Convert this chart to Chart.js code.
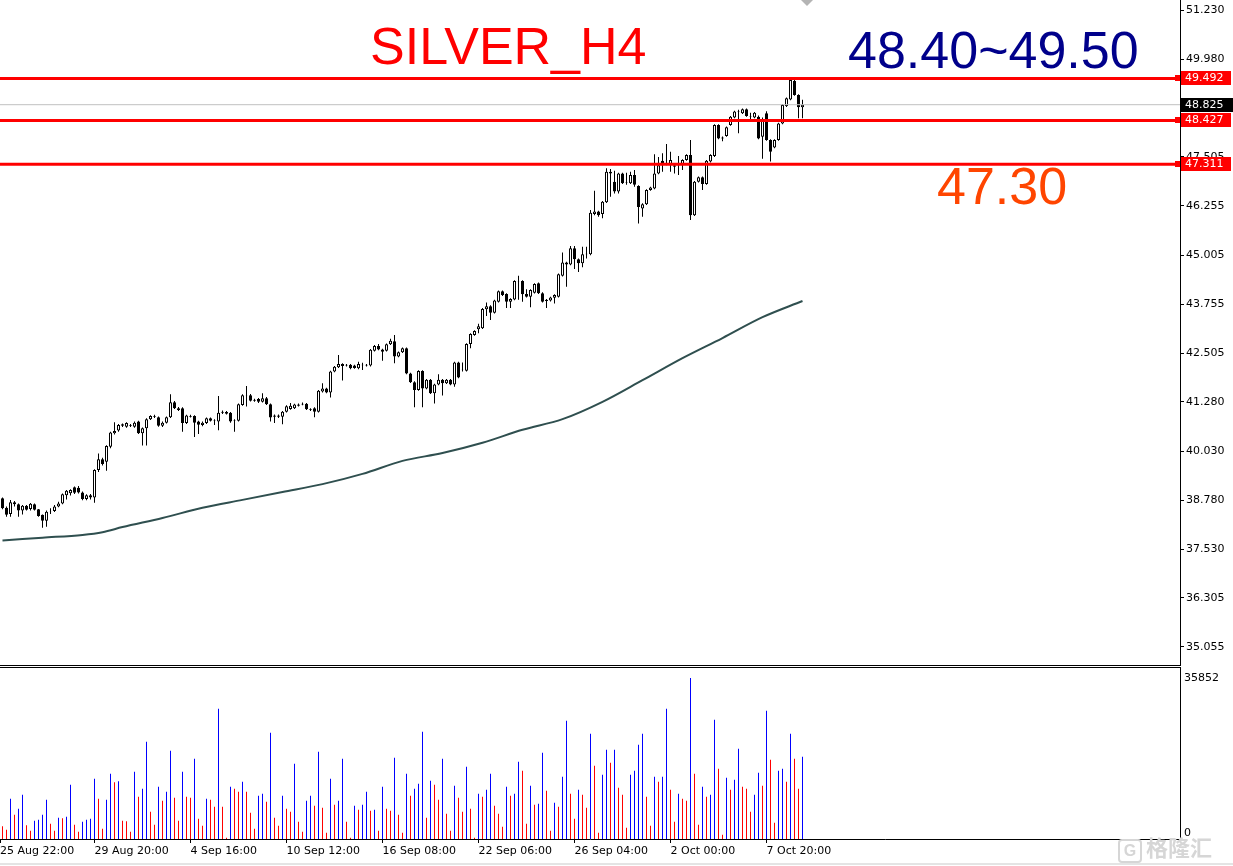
<!DOCTYPE html>
<html>
<head>
<meta charset="utf-8">
<title>SILVER_H4</title>
<script src="https://cdn.jsdelivr.net/npm/chart.js@4.4.0/dist/chart.umd.min.js"></script>
<style>
  html, body { margin: 0; padding: 0; background: #fff; }
  #wrap { position: relative; width: 1233px; height: 866px; overflow: hidden; }
  #priceBox { position: absolute; left: 0; top: 0; width: 1233px; height: 665px; }
  #volBox { position: absolute; left: 0; top: 667px; width: 1233px; height: 199px; }
  .sep { position: absolute; left: 0; width: 1181px; height: 1px; background: #000; }
  .note { position: absolute; font-family: "Liberation Sans", Arial, sans-serif; font-size: 52px; line-height: 52px; white-space: nowrap; }
  #shift { position: absolute; left: 801px; top: 0; width: 0; height: 0;
           border-left: 6px solid transparent; border-right: 6px solid transparent; border-top: 6px solid #b4b4b4; }
  #bottomLine { position: absolute; left: 0; top: 863px; width: 1233px; height: 2px; background: #e4e4e4; }
  #mark { position: absolute; left: 1118px; top: 833px; font-family: "Noto Sans CJK SC", sans-serif; font-weight: bold;
          font-size: 22px; line-height: 26px; color: #d6d6d6; white-space: nowrap; }
  #mark .g { display: inline-block; width: 20px; height: 20px; line-height: 20px; margin-right: 4px; text-align: center;
             border: 2px solid #d6d6d6; border-radius: 4px; font-size: 16px; font-family: "Liberation Sans", sans-serif; }
</style>
</head>
<body>
<div id="wrap">
  <div id="priceBox"><canvas id="priceChart"></canvas></div>
  <div id="volBox"><canvas id="volChart"></canvas></div>
  <div class="sep" style="top:665px"></div>
  <div class="sep" style="top:667px"></div>
  <div id="shift"></div>
  <div class="note" style="left:370px; top:20px; color:#ff0000">SILVER_H4</div>
  <div class="note" style="left:848px; top:24px; color:#00008b">48.40~49.50</div>
  <div class="note" style="left:937px; top:160px; color:#ff4500">47.30</div>
  <div id="bottomLine"></div>
  <div id="mark"><span class="g">G</span>格隆汇</div>
</div>
<script>
// H4 candles, oldest first (bar 0 = first visible bar after 25 Aug 22:00)
const opens = [
  38.83,38.59,38.43,38.73,38.68,38.52,38.64,38.56,38.68,38.55,
  38.41,38.26,38.50,38.51,38.62,38.70,38.91,38.96,39.11,39.10,
  38.98,38.81,38.91,38.85,39.55,39.82,39.76,40.14,40.48,40.55,
  40.67,40.65,40.67,40.65,40.78,40.48,40.61,40.84,40.90,40.89,
  40.67,40.75,40.89,41.27,41.12,41.12,40.74,40.92,40.92,40.78,
  40.69,40.74,40.86,40.80,40.78,41.00,41.02,41.00,40.80,40.80,
  41.20,41.45,41.45,41.31,41.35,41.28,41.37,41.22,40.93,40.90,
  40.90,41.03,41.10,41.12,41.21,41.21,41.23,41.09,41.12,41.03,
  41.54,41.62,41.52,42.05,42.16,42.24,42.20,42.22,42.20,42.13,
  42.22,42.20,42.20,42.58,42.70,42.61,42.58,42.74,42.82,42.43,
  42.54,42.64,42.00,41.78,41.58,42.06,41.62,41.84,41.50,41.72,
  41.84,41.75,41.84,41.72,42.28,42.10,42.07,42.75,42.98,43.12,
  43.15,43.63,43.71,43.54,43.82,44.09,44.02,43.82,43.88,44.35,
  44.35,44.02,43.95,44.05,44.29,44.04,43.84,43.85,43.92,43.95,
  44.48,44.82,44.77,45.18,44.90,44.80,45.03,45.03,46.05,46.11,
  46.05,46.35,47.08,46.87,46.62,47.08,46.85,46.83,47.04,46.76,
  46.19,46.30,46.66,46.70,47.08,47.40,47.40,47.29,47.29,47.29,
  47.32,47.42,47.55,46.02,46.87,46.98,46.81,47.38,47.52,48.31,
  47.97,48.03,48.31,48.50,48.65,48.61,48.71,48.52,48.50,48.52,
  48.01,48.61,47.93,47.74,47.93,48.35,48.79,48.96,49.43,49.07,48.76
];
const highs = [
  38.85,38.62,38.79,38.76,38.70,38.66,38.66,38.71,38.70,38.56,
  38.42,38.52,38.58,38.66,38.74,38.95,39.04,39.06,39.13,39.14,
  39.00,38.93,38.94,39.57,39.97,39.86,40.18,40.52,40.76,40.72,
  40.73,40.76,40.72,40.78,40.80,40.63,40.86,40.94,40.95,40.91,
  40.78,40.91,41.47,41.30,41.15,41.14,40.95,40.95,40.94,40.80,
  40.78,40.88,40.88,40.84,41.43,41.06,41.05,41.02,40.84,41.24,
  41.47,41.68,41.48,41.36,41.38,41.50,41.40,41.24,40.96,40.96,
  41.05,41.19,41.25,41.23,41.24,41.26,41.25,41.12,41.14,41.58,
  41.75,41.64,42.07,42.19,42.47,42.26,42.24,42.24,42.22,42.30,
  42.27,42.24,42.62,42.72,42.75,42.63,42.76,42.88,42.98,42.56,
  42.66,42.66,42.02,41.80,42.08,42.08,41.86,41.86,41.74,41.98,
  41.86,41.86,41.86,42.30,42.30,42.28,42.77,43.02,43.10,43.26,
  43.66,43.80,43.73,43.87,44.11,44.11,44.04,43.91,44.37,44.48,
  44.37,44.14,44.14,44.29,44.31,44.06,43.89,43.95,44.01,44.54,
  45.07,44.84,45.24,45.24,44.92,45.22,45.22,46.15,46.64,46.13,
  46.38,47.21,47.19,47.15,47.10,47.10,47.10,47.12,47.17,46.78,
  46.32,46.68,46.74,47.57,47.50,47.59,47.83,47.63,47.31,47.52,
  47.44,47.57,47.93,46.89,47.00,47.00,47.42,47.57,48.33,48.33,
  48.02,48.27,48.54,48.67,48.70,48.73,48.73,48.62,48.64,48.55,
  48.50,48.66,47.95,47.95,48.37,48.84,49.01,49.52,49.52,49.09,48.95
];
const lows = [
  38.55,38.36,38.36,38.62,38.36,38.42,38.52,38.52,38.52,38.36,
  38.08,38.11,38.43,38.48,38.60,38.68,38.80,38.90,38.94,38.95,
  38.78,38.78,38.80,38.72,39.50,39.66,39.53,40.10,40.45,40.52,
  40.64,40.62,40.64,40.62,40.46,40.17,40.17,40.82,40.87,40.65,
  40.64,40.73,40.87,41.10,41.05,40.52,40.72,40.88,40.39,40.46,
  40.66,40.72,40.78,40.69,40.56,40.97,40.96,40.75,40.52,40.78,
  41.18,41.16,41.29,41.28,41.25,41.26,41.20,40.78,40.74,40.87,
  40.71,41.01,41.08,41.10,41.16,41.19,41.07,41.05,40.89,41.01,
  41.52,41.50,41.39,42.03,42.14,41.82,42.18,42.11,42.12,42.11,
  42.09,42.18,42.18,42.56,42.59,42.32,42.56,42.72,42.26,42.41,
  42.52,41.98,41.76,41.14,41.56,41.14,41.60,41.48,41.24,41.70,
  41.44,41.73,41.70,41.66,41.88,42.05,42.05,42.64,42.96,43.02,
  43.13,43.46,43.36,43.52,43.80,43.97,43.66,43.66,43.86,43.87,
  43.82,43.93,43.68,44.03,44.02,43.80,43.66,43.83,43.78,43.93,
  44.46,44.20,44.75,44.65,44.58,44.70,44.92,45.00,46.02,45.98,
  45.94,46.33,46.49,46.57,46.57,46.81,46.79,46.81,46.74,45.81,
  45.98,46.28,46.64,46.68,47.06,47.12,47.29,47.12,47.08,47.04,
  47.17,47.40,45.90,46.00,46.85,46.66,46.79,47.36,47.50,47.95,
  47.90,48.01,48.29,48.48,48.10,48.59,48.52,48.40,48.48,47.95,
  47.45,47.91,47.38,47.72,47.91,48.33,48.77,48.94,49.05,48.48,48.48
];
const closes = [
  38.58,38.41,38.73,38.68,38.52,38.64,38.54,38.69,38.54,38.38,
  38.26,38.49,38.51,38.62,38.70,38.93,39.02,39.04,38.97,38.98,
  38.81,38.91,38.85,39.55,39.82,39.70,40.16,40.50,40.54,40.69,
  40.71,40.74,40.69,40.75,40.48,40.61,40.84,40.92,40.92,40.67,
  40.75,40.89,41.27,41.12,41.07,40.74,40.93,40.90,40.75,40.70,
  40.75,40.86,40.80,40.81,41.00,41.03,40.98,40.78,40.81,41.22,
  41.45,41.44,41.31,41.33,41.28,41.37,41.22,40.88,40.90,40.93,
  41.03,41.17,41.18,41.21,41.18,41.23,41.09,41.07,41.03,41.56,
  41.62,41.52,42.05,42.17,42.24,42.19,42.22,42.13,42.14,42.24,
  42.21,42.22,42.60,42.70,42.61,42.55,42.74,42.83,42.43,42.54,
  42.64,42.00,41.78,41.58,42.06,41.62,41.84,41.50,41.72,41.84,
  41.75,41.84,41.72,42.28,41.90,42.11,42.75,43.00,43.08,43.20,
  43.64,43.71,43.54,43.85,44.09,43.99,43.82,43.89,44.35,44.34,
  44.01,43.95,44.12,44.27,44.04,43.82,43.87,43.93,43.99,44.52,
  44.82,44.77,45.18,44.90,44.80,45.03,45.04,46.08,46.11,46.02,
  46.36,47.12,47.12,46.62,47.08,46.83,46.86,47.04,46.79,46.23,
  46.30,46.66,46.72,47.08,47.29,47.29,47.41,47.42,47.25,47.30,
  47.42,47.55,46.02,46.87,46.98,46.81,47.40,47.55,48.31,47.97,
  47.99,48.25,48.52,48.65,48.64,48.71,48.54,48.53,48.62,47.97,
  48.44,47.93,47.63,47.93,48.35,48.82,48.99,49.45,49.07,48.76,48.825
];
const volumes = [
  2820,2078,8978,5417,6752,9869,3042,1855,4081,4304,
  5417,8756,3413,1855,4749,4600,4971,12095,3191,1632,
  3858,4304,4526,13430,8978,2300,8756,14543,12614,12837,
  4081,3933,1632,14988,9423,11204,21666,6084,3191,11649,
  8533,10536,19663,9201,4081,14988,9423,9201,17882,4526,
  2968,8978,8756,7197,29012,7197,297,11649,11204,10536,
  12762,10536,5862,2300,9646,10091,8310,23670,4749,2968,
  9646,6752,6084,16769,3858,1632,8533,9646,7420,19440,
  6975,1410,13430,7643,8533,17882,3858,297,7420,6530,
  7643,10536,6307,6530,1855,11649,6752,6307,18105,5417,
  1410,14543,9646,11204,12317,23892,4749,12985,12095,8756,
  17882,5639,1855,11872,9201,6084,16101,6752,297,10091,
  9423,10982,14543,7420,5639,2745,11649,9646,10091,17214,
  15211,3413,11872,7643,7865,19218,10759,1855,8088,7197,
  13875,26341,10091,4526,10982,9869,6975,23447,16324,1410,
  14321,19886,16992,19886,11427,9869,2523,14321,15211,20999,
  23447,9423,2968,13875,12762,13875,29012,10982,3858,10091,
  8978,8533,35852,14543,3191,11649,9423,9869,26564,15656,
  965,13653,10982,13208,20108,11649,11204,6084,9869,14766,
  11872,28567,17660,3636,15211,15656,12762,23447,17882,11204,18327
];

// moving average, read at a few bars
const maBars   = [0, 10, 20, 25, 30, 40, 50, 60, 70, 80, 90, 100, 110, 120, 130, 140, 150, 160, 170, 180, 190, 200];
const maValues = [37.76, 37.83, 37.90, 37.97, 38.10, 38.33, 38.59, 38.79, 38.99, 39.19, 39.45, 39.78,
                  39.98, 40.24, 40.57, 40.84, 41.28, 41.83, 42.39, 42.90, 43.43, 43.84];

// horizontal levels and last price
const levelValues = [49.492, 48.427, 47.311];
const levelLabels = ['49.492', '48.427', '47.311'];
const lastPrice = 48.825;
const lastPriceLabel = '48.825';

// axis ticks
const priceTickLabels = ['51.230', '49.980', '47.505', '46.255', '45.005', '43.755', '42.505',
                         '41.280', '40.030', '38.780', '37.530', '36.305', '35.055'];
const dateTickBars = [-1, 23, 47, 71, 95, 119, 143, 167, 191];
const dateTickLabels = ['25 Aug 22:00', '29 Aug 20:00', '4 Sep 16:00', '10 Sep 12:00', '16 Sep 08:00',
                        '22 Sep 06:00', '26 Sep 04:00', '2 Oct 00:00', '7 Oct 20:00'];
const volMax = 35852;
const volTickLabels = ['0', '35852'];

Chart.defaults.font.family = '"DejaVu Sans", sans-serif';
Chart.defaults.font.size = 11;
Chart.defaults.color = '#000';

// 295 slots of 4px across the 1180px plot, chart shifted left of the axis
const X_MIN = -0.625, X_MAX = 294.375;

const bodies = opens.map((o, i) => ({ x: i, y: [o, closes[i]] }));
const wicks = lows.map((l, i) => ({ x: i, y: [l, highs[i]] }));
const bodyColors = opens.map((o, i) => closes[i] >= o ? '#ffffff' : '#000000');
const maPoints = maBars.map((b, i) => ({ x: b, y: maValues[i] }));

const levelSets = levelValues.map(v => ({
    type: 'line',
    data: [{ x: X_MIN, y: v }, { x: X_MAX, y: v }],
    borderColor: '#ff0000',
    borderWidth: 3,
    pointRadius: 0,
    order: 0,
}));

const axisTags = {
    id: 'axisTags',
    afterDraw(chart) {
        const { ctx, chartArea } = chart;
        const y = chart.scales.y;
        const tags = levelValues.map((v, i) => ({ v: v, bg: '#ff0000', text: levelLabels[i], anchor: true }));
        tags.push({ v: lastPrice, bg: '#000000', text: lastPriceLabel, anchor: false });
        ctx.save();
        ctx.font = '11px "DejaVu Sans"';
        ctx.textBaseline = 'middle';
        tags.forEach(function (t) {
            const py = Math.round(y.getPixelForValue(t.v));
            ctx.fillStyle = t.bg;
            ctx.fillRect(chartArea.right + 1, py - 7, t.anchor ? 50 : 53, 14);
            if (t.anchor) ctx.fillRect(chartArea.right - 5, py - 3, 5, 6);
            ctx.fillStyle = '#ffffff';
            ctx.fillText(t.text, chartArea.right + 5, py + 0.5);
        });
        ctx.restore();
    },
};

new Chart(document.getElementById('priceChart'), {
    type: 'bar',
    data: {
        datasets: levelSets.concat([
            {
                type: 'line',
                data: [{ x: X_MIN, y: lastPrice }, { x: X_MAX, y: lastPrice }],
                borderColor: '#c0c0c0',
                borderWidth: 1,
                pointRadius: 0,
                order: 1,
            },
            {
                data: bodies,
                backgroundColor: bodyColors,
                borderColor: '#000000',
                borderWidth: 1,
                borderSkipped: false,
                barThickness: 3,
                grouped: false,
                inflateAmount: 0,
                order: 2,
            },
            {
                data: wicks,
                backgroundColor: '#000000',
                borderWidth: 0,
                barThickness: 1,
                grouped: false,
                inflateAmount: 0,
                order: 3,
            },
            {
                type: 'line',
                data: maPoints,
                borderColor: '#2f4f4f',
                borderWidth: 2,
                pointRadius: 0,
                cubicInterpolationMode: 'monotone',
                order: 4,
            },
        ]),
    },
    options: {
        animation: false,
        responsive: true,
        maintainAspectRatio: false,
        layout: { padding: 0 },
        plugins: { legend: { display: false }, tooltip: { enabled: false } },
        scales: {
            x: { type: 'linear', min: X_MIN, max: X_MAX, offset: false, display: false },
            y: {
                position: 'right',
                min: 34.597,
                max: 51.484,
                afterFit: function (s) { s.width = 53; s.paddingTop = 0; s.paddingBottom = 0; },
                afterBuildTicks: function (s) {
                    s.ticks = priceTickLabels.map(function (t) { return { value: parseFloat(t) }; });
                },
                ticks: {
                    padding: 2,
                    callback: function (v, i) { return priceTickLabels[i]; },
                },
                grid: { drawOnChartArea: false, tickLength: 4, color: '#000000' },
                border: { color: '#000000' },
            },
        },
    },
    plugins: [axisTags],
});

const volColors = volumes.map((v, i) => (i > 0 && v > volumes[i - 1]) ? '#0000ff' : '#ff0000');

new Chart(document.getElementById('volChart'), {
    type: 'bar',
    data: {
        datasets: [{
            data: volumes.map((v, i) => ({ x: i, y: v })),
            backgroundColor: volColors,
            borderWidth: 0,
            barThickness: 1,
            inflateAmount: 0,
            grouped: false,
        }],
    },
    options: {
        animation: false,
        responsive: true,
        maintainAspectRatio: false,
        layout: { padding: 0 },
        plugins: { legend: { display: false }, tooltip: { enabled: false } },
        scales: {
            x: {
                type: 'linear',
                min: X_MIN,
                max: X_MAX,
                offset: false,
                afterFit: function (s) { s.height = 27; s.paddingLeft = 0; s.paddingRight = 0; },
                afterBuildTicks: function (s) {
                    s.ticks = dateTickBars.map(function (b) { return { value: Math.max(b, X_MIN) }; });
                },
                ticks: {
                    autoSkip: false,
                    maxRotation: 0,
                    minRotation: 0,
                    align: 'start',
                    padding: 2,
                    callback: function (v, i) { return dateTickLabels[i]; },
                },
                grid: { drawOnChartArea: false, tickLength: 4, color: '#000000', offset: false },
                border: { color: '#000000', dash: [3, 2] },
            },
            y: {
                position: 'right',
                min: 0,
                max: volMax * 172 / 161,
                afterFit: function (s) { s.width = 53; s.paddingTop = 0; s.paddingBottom = 0; },
                afterBuildTicks: function (s) {
                    // the zero label sits just above the baseline, as in the terminal
                    s.ticks = [{ value: volMax * 6 / 161 }, { value: volMax }];
                },
                ticks: {
                    padding: 4,
                    callback: function (v, i) { return volTickLabels[i]; },
                },
                grid: { display: false, drawTicks: false },
                border: { color: '#000000' },
            },
        },
    },
});
</script>
</body>
</html>
